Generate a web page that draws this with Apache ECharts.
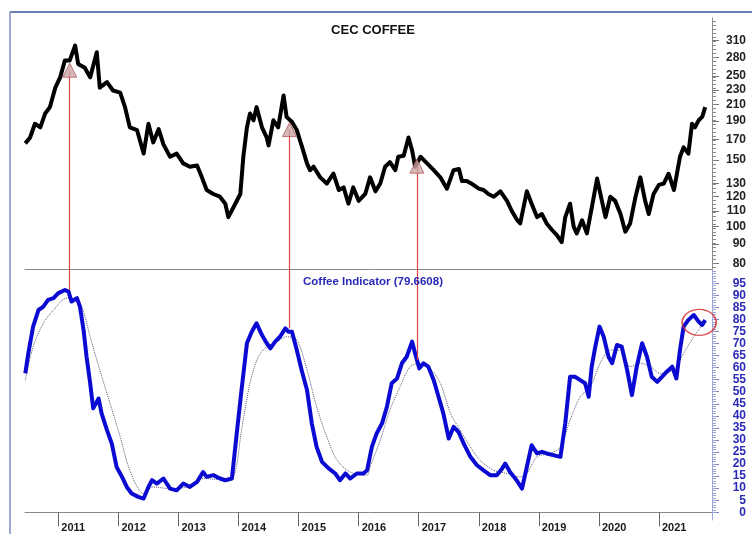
<!DOCTYPE html>
<html lang="en">
<head>
    <meta charset="UTF-8">
    <title>CEC COFFEE</title>
    <script src="https://cdn.jsdelivr.net/npm/echarts@6/dist/echarts.min.js"></script>
</head>
<body style="margin:0;background:#fff;">
<div id="main" style="width: 752px;height:534px;"></div>
<script type="text/javascript">
    // time axis is in decimal years
    var yearTicks = [2011, 2012, 2013, 2014, 2015, 2016, 2017, 2018, 2019, 2020, 2021];
    var priceTicks = [80, 90, 100, 110, 120, 130, 150, 170, 190, 210, 230, 250, 280, 310];
    var indTicks = [0, 5, 10, 15, 20, 25, 30, 35, 40, 45, 50, 55, 60, 65, 70, 75, 80, 85, 90, 95];

    // CEC coffee price (top pane, log scale)
    var priceYears = [2010.45, 2010.53, 2010.61, 2010.70, 2010.78, 2010.86, 2010.95, 2011.03, 2011.11, 2011.19,
        2011.28, 2011.33, 2011.44, 2011.53, 2011.64, 2011.69, 2011.81, 2011.91, 2012.03, 2012.11,
        2012.19, 2012.31, 2012.42, 2012.50, 2012.58, 2012.67, 2012.75, 2012.86, 2012.97, 2013.08,
        2013.19, 2013.31, 2013.39, 2013.47, 2013.58, 2013.69, 2013.78, 2013.83, 2013.91, 2014.03,
        2014.08, 2014.14, 2014.19, 2014.25, 2014.30, 2014.39, 2014.47, 2014.50, 2014.58, 2014.66,
        2014.75, 2014.80, 2014.89, 2014.97, 2015.05, 2015.14, 2015.19, 2015.25, 2015.36, 2015.47,
        2015.58, 2015.67, 2015.75, 2015.83, 2015.91, 2016.00, 2016.11, 2016.19, 2016.28, 2016.36,
        2016.44, 2016.52, 2016.61, 2016.66, 2016.75, 2016.83, 2016.89, 2016.94, 2017.03, 2017.14,
        2017.25, 2017.36, 2017.47, 2017.58, 2017.67, 2017.72, 2017.80, 2017.91, 2018.00, 2018.08,
        2018.16, 2018.25, 2018.36, 2018.47, 2018.55, 2018.64, 2018.69, 2018.80, 2018.88, 2018.97,
        2019.05, 2019.13, 2019.22, 2019.30, 2019.38, 2019.44, 2019.52, 2019.58, 2019.63, 2019.72,
        2019.80, 2019.88, 2019.97, 2020.05, 2020.11, 2020.19, 2020.27, 2020.36, 2020.44, 2020.52,
        2020.61, 2020.69, 2020.77, 2020.83, 2020.91, 2021.00, 2021.08, 2021.16, 2021.25, 2021.31,
        2021.35, 2021.41, 2021.49, 2021.55, 2021.60, 2021.66, 2021.72, 2021.77];
    var priceValues = [166, 172, 187, 183, 199, 207, 233, 248, 275, 275,
        301, 269, 263, 248, 289, 233, 241, 229, 226, 207,
        183, 180, 156, 187, 167, 181, 165, 153, 156, 147,
        144, 145, 135, 125, 122, 120, 115, 106, 112, 122,
        153, 183, 199, 191, 207, 183, 172, 164, 191, 183,
        222, 195, 189, 180, 164, 147, 141, 144, 135, 130,
        138, 125, 127, 115, 127, 117, 122, 135, 124, 130,
        144, 148, 141, 153, 154, 172, 159, 144, 153, 147,
        141, 135, 126, 141, 142, 132, 132, 129, 126, 125,
        122, 120, 124, 117, 110, 104, 102, 124, 115, 106,
        108, 102, 98, 95, 91, 106, 115, 100, 96, 104,
        96, 112, 134, 117, 106, 120, 117, 108, 97, 102,
        120, 135, 117, 108, 122, 129, 130, 138, 125, 141,
        153, 162, 156, 187, 183, 191, 195, 207];

    // Coffee Indicator (blue) and its average (dotted)
    var indYears = [2010.45, 2010.50, 2010.58, 2010.67, 2010.75, 2010.83, 2010.92, 2011.00, 2011.11, 2011.17,
        2011.22, 2011.31, 2011.36, 2011.42, 2011.47, 2011.53, 2011.58, 2011.67, 2011.72, 2011.81,
        2011.89, 2011.97, 2012.06, 2012.14, 2012.22, 2012.33, 2012.42, 2012.50, 2012.56, 2012.64,
        2012.75, 2012.86, 2012.97, 2013.08, 2013.19, 2013.31, 2013.41, 2013.47, 2013.58, 2013.69,
        2013.78, 2013.89, 2013.97, 2014.05, 2014.14, 2014.22, 2014.30, 2014.39, 2014.47, 2014.53,
        2014.61, 2014.69, 2014.78, 2014.83, 2014.89, 2014.97, 2015.05, 2015.14, 2015.22, 2015.30,
        2015.39, 2015.50, 2015.61, 2015.69, 2015.78, 2015.86, 2015.97, 2016.08, 2016.14, 2016.22,
        2016.30, 2016.39, 2016.47, 2016.55, 2016.64, 2016.72, 2016.80, 2016.89, 2016.94, 2017.01,
        2017.08, 2017.16, 2017.25, 2017.33, 2017.41, 2017.50, 2017.58, 2017.66, 2017.75, 2017.86,
        2017.97, 2018.08, 2018.19, 2018.30, 2018.39, 2018.44, 2018.52, 2018.63, 2018.72, 2018.80,
        2018.88, 2018.97, 2019.05, 2019.13, 2019.24, 2019.36, 2019.44, 2019.52, 2019.60, 2019.69,
        2019.77, 2019.83, 2019.88, 2019.94, 2020.01, 2020.08, 2020.16, 2020.22, 2020.30, 2020.38,
        2020.47, 2020.55, 2020.63, 2020.72, 2020.80, 2020.88, 2020.97, 2021.05, 2021.13, 2021.22,
        2021.29, 2021.35, 2021.41, 2021.49, 2021.58, 2021.66, 2021.72, 2021.77];
    var indValues = [57.6, 65.9, 77.0, 83.9, 85.3, 88.1, 88.8, 90.9, 92.2, 91.5,
        87.4, 88.8, 85.3, 75.6, 64.5, 53.5, 43.1, 47.2, 41.0, 34.1,
        28.5, 18.8, 14.7, 10.5, 7.8, 6.4, 5.7, 10.5, 13.3, 11.9,
        14.0, 9.8, 9.1, 11.9, 10.5, 12.6, 16.7, 14.7, 15.4, 14.0,
        13.3, 14.0, 32.7, 50.7, 70.1, 74.9, 78.4, 73.5, 70.1, 68.0,
        70.8, 72.8, 76.3, 74.9, 74.9, 67.3, 59.0, 50.7, 36.9, 27.1,
        20.9, 18.2, 16.1, 13.3, 16.1, 14.0, 16.1, 16.1, 17.4, 27.1,
        32.7, 36.9, 43.7, 53.5, 55.5, 61.8, 64.5, 70.8, 65.9, 59.7,
        61.8, 60.4, 54.8, 47.9, 41.0, 30.6, 35.4, 33.4, 28.5, 23.0,
        19.5, 17.4, 15.4, 15.4, 18.2, 20.2, 16.7, 13.3, 9.8, 18.8,
        27.8, 24.4, 25.1, 24.4, 23.7, 23.0, 36.9, 56.2, 56.2, 54.8,
        53.5, 47.9, 60.4, 68.7, 77.0, 72.8, 64.5, 61.8, 69.4, 68.7,
        59.0, 48.6, 60.4, 70.1, 64.5, 56.2, 54.1, 56.2, 58.3, 60.4,
        55.5, 67.3, 77.0, 79.8, 81.8, 79.1, 77.7, 79.7];
    var avgYears = [2010.45, 2010.58, 2010.75, 2010.92, 2011.14, 2011.28, 2011.39, 2011.53, 2011.69, 2011.86,
        2012.03, 2012.19, 2012.42, 2012.58, 2012.86, 2013.14, 2013.42, 2013.69, 2013.91, 2014.05,
        2014.19, 2014.33, 2014.47, 2014.64, 2014.80, 2014.97, 2015.14, 2015.30, 2015.47, 2015.64,
        2015.86, 2016.14, 2016.19, 2016.36, 2016.52, 2016.69, 2016.86, 2017.03, 2017.19, 2017.36,
        2017.53, 2017.69, 2017.86, 2018.02, 2018.25, 2018.47, 2018.69, 2018.80, 2018.97, 2019.19,
        2019.36, 2019.52, 2019.69, 2019.86, 2020.02, 2020.19, 2020.36, 2020.52, 2020.69, 2020.86,
        2021.02, 2021.24, 2021.41, 2021.58, 2021.74];
    var avgValues = [54.8, 68.7, 78.4, 83.9, 88.8, 88.1, 85.3, 72.8, 59.0, 45.2,
        31.3, 17.4, 7.8, 10.5, 9.8, 10.5, 14.0, 13.6, 14.7, 34.1,
        53.5, 64.5, 68.7, 70.8, 72.8, 71.5, 59.0, 43.7, 31.3, 21.6,
        16.7, 15.4, 18.8, 29.9, 42.4, 52.1, 60.4, 61.8, 59.7, 53.5,
        41.0, 34.1, 27.1, 21.6, 17.4, 16.1, 14.7, 16.1, 23.0, 24.4,
        27.1, 38.2, 47.9, 52.1, 61.8, 67.3, 67.3, 60.4, 61.8, 60.4,
        57.6, 59.0, 65.9, 72.8, 78.4];

    // red arrows linking price tops to indicator tops
    var arrowYears = [2011.19, 2014.85, 2016.97];
    var arrowPrice = [259, 180.5, 144.5];
    var arrowInd = [92.2, 76.3, 63.1];
    var circleAt = [2021.67, 78.8];

    var X_MIN = 2010.445, X_MAX = 2021.883;
    var P_MIN = 77.3, P_MAX = 355.9;
    var I_MIN = -3.2, I_MAX = 100.9;
    var FONT = "'Liberation Sans', Arial, sans-serif";
    var RED = '#dd4444';

    function zip(xs, ys) {
        var out = [];
        for (var i = 0; i < xs.length; i++) out.push([xs[i], ys[i]]);
        return out;
    }
    function lg(v) { return Math.log(v) / Math.LN10; }

    var minorTop = [];
    for (var t = lg(78); t < lg(355); t += 0.0105) minorTop.push(t);
    var minorBot = [];
    for (var k = 0; k <= 100; k++) minorBot.push(k);

    var priceLines = [], indLines = [], triPts = [];
    for (var i = 0; i < arrowYears.length; i++) {
        triPts.push([arrowYears[i], arrowPrice[i]]);
        priceLines.push([
            {coord: [arrowYears[i], arrowPrice[i]], lineStyle: {color: RED, width: 1.2, type: 'solid', opacity: 1}},
            {coord: [arrowYears[i], P_MIN]}
        ]);
        indLines.push([
            {coord: [arrowYears[i], I_MAX], lineStyle: {color: RED, width: 1.2, type: 'solid', opacity: 1}},
            {coord: [arrowYears[i], arrowInd[i]]}
        ]);
    }

    var myChart = echarts.init(document.getElementById('main'), null, {renderer: 'canvas'});
    myChart.setOption({
        animation: false,
        backgroundColor: '#ffffff',
        textStyle: {fontFamily: FONT},
        title: [{
            text: 'CEC COFFEE',
            left: 368, top: 19, textAlign: 'center',
            textStyle: {fontSize: 13, fontWeight: 'bold', color: '#111', fontFamily: FONT}
        }, {
            text: 'Coffee Indicator (79.6608)',
            left: 368, top: 271, textAlign: 'center',
            textStyle: {fontSize: 11.5, fontWeight: 'bold', color: '#2a2ab8', fontFamily: FONT}
        }],
        graphic: [
            {type: 'line', shape: {x1: 10, y1: 12, x2: 752, y2: 12}, style: {stroke: '#3d55a0', lineWidth: 1.5}, silent: true},
            {type: 'line', shape: {x1: 10, y1: 12, x2: 10, y2: 534}, style: {stroke: '#7b8bc2', lineWidth: 1.5}, silent: true}
        ],
        grid: [
            {left: 25, right: 40, top: 18, height: 251},
            {left: 25, right: 40, top: 269, height: 251}
        ],
        xAxis: [{
            type: 'value', gridIndex: 0, min: X_MIN, max: X_MAX,
            axisLine: {show: true, lineStyle: {color: '#8a8a8a', width: 1}},
            axisTick: {show: false}, axisLabel: {show: false}, splitLine: {show: false}
        }, {
            type: 'value', gridIndex: 1, min: X_MIN, max: X_MAX,
            axisLine: {show: true, lineStyle: {color: '#8a8a8a', width: 1}},
            axisTick: {show: true, length: 14, customValues: yearTicks, lineStyle: {color: '#666'}},
            axisLabel: {
                customValues: yearTicks, align: 'left', margin: 2, padding: [0, 0, 0, 3],
                fontSize: 11, fontWeight: 'bold', color: '#1a1a1a', fontFamily: FONT,
                formatter: function (v) { return String(Math.round(v)); }
            },
            splitLine: {show: false}
        }],
        yAxis: [{
            // price scale used by the series
            type: 'log', gridIndex: 0, position: 'right', min: P_MIN, max: P_MAX,
            axisLine: {show: true, lineStyle: {color: '#8a8a8a'}},
            axisTick: {show: false}, axisLabel: {show: false}, splitLine: {show: false}
        }, {
            // price labels (same log space)
            type: 'value', gridIndex: 0, position: 'right', min: lg(P_MIN), max: lg(P_MAX),
            axisLine: {show: false},
            axisTick: {show: true, length: 7, customValues: priceTicks.map(lg), lineStyle: {color: '#777'}},
            axisLabel: {
                customValues: priceTicks.map(lg), align: 'right', margin: 34,
                fontSize: 12, fontWeight: 'bold', color: '#222', fontFamily: FONT,
                formatter: function (v) { return String(Math.round(Math.pow(10, v))); }
            },
            splitLine: {show: false}
        }, {
            type: 'value', gridIndex: 0, position: 'right', min: lg(P_MIN), max: lg(P_MAX),
            axisLine: {show: false},
            axisTick: {show: true, length: 4, customValues: minorTop, lineStyle: {color: '#888'}},
            axisLabel: {show: false}, splitLine: {show: false}
        }, {
            type: 'value', gridIndex: 1, position: 'right', min: I_MIN, max: I_MAX,
            axisLine: {show: true, lineStyle: {color: '#a4acd6'}},
            axisTick: {show: true, length: 7, customValues: indTicks, lineStyle: {color: '#7c84c8'}},
            axisLabel: {
                customValues: indTicks, align: 'right', margin: 34,
                fontSize: 12, fontWeight: 'bold', color: '#2a2ab8', fontFamily: FONT
            },
            splitLine: {show: false}
        }, {
            type: 'value', gridIndex: 1, position: 'right', min: I_MIN, max: I_MAX,
            axisLine: {show: false},
            axisTick: {show: true, length: 4, customValues: minorBot, lineStyle: {color: '#9aa2d4'}},
            axisLabel: {show: false}, splitLine: {show: false}
        }],
        series: [{
            name: 'CEC COFFEE', type: 'line', xAxisIndex: 0, yAxisIndex: 0,
            data: zip(priceYears, priceValues), showSymbol: false, silent: true,
            lineStyle: {color: '#000', width: 4, join: 'round'},
            markLine: {
                silent: true, symbol: ['none', 'none'], label: {show: false},
                lineStyle: {color: RED, width: 1.2, type: 'solid', opacity: 1},
                emphasis: {disabled: true}, data: priceLines
            },
            z: 3
        }, {
            name: 'arrows', type: 'scatter', xAxisIndex: 0, yAxisIndex: 0,
            data: triPts, symbol: 'triangle', symbolSize: [14, 14], silent: true,
            itemStyle: {color: '#c9a8a6', borderColor: '#b35a5a', borderWidth: 1},
            z: 5
        }, {
            name: 'average', type: 'line', xAxisIndex: 1, yAxisIndex: 3,
            data: zip(avgYears, avgValues), showSymbol: false, silent: true, smooth: 0.3,
            lineStyle: {color: '#5a5a78', width: 1, type: 'dotted'},
            z: 2
        }, {
            name: 'Coffee Indicator', type: 'line', xAxisIndex: 1, yAxisIndex: 3,
            data: zip(indYears, indValues), showSymbol: false, silent: true,
            lineStyle: {color: '#0a0ad2', width: 4, join: 'round'},
            markLine: {
                silent: true, symbol: ['none', 'none'], label: {show: false},
                lineStyle: {color: RED, width: 1.2, type: 'solid', opacity: 1},
                emphasis: {disabled: true}, data: indLines
            },
            z: 3
        }, {
            name: 'circle', type: 'scatter', xAxisIndex: 1, yAxisIndex: 3,
            data: [circleAt], symbol: 'circle', symbolSize: [34, 26], silent: true,
            itemStyle: {color: 'rgba(0,0,0,0)', borderColor: '#d02828', borderWidth: 1.5},
            z: 6
        }]
    });
</script>
</body>
</html>
